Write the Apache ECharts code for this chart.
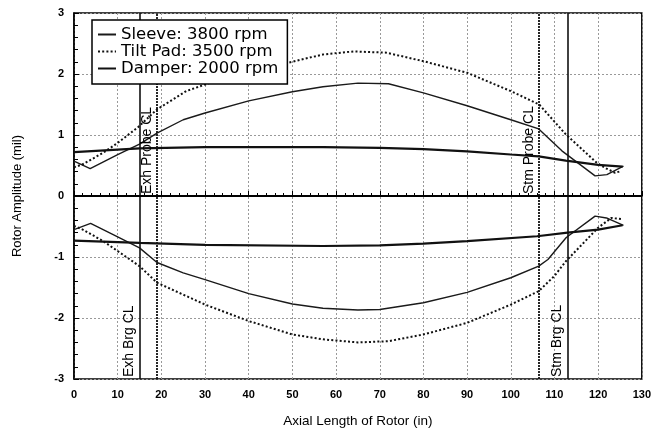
<!DOCTYPE html>
<html>
<head>
<meta charset="utf-8">
<script src="https://cdn.jsdelivr.net/npm/echarts/dist/echarts.min.js"></script>
<style>
  html, body { margin: 0; padding: 0; background: #fff; }
  #chart { width: 654px; height: 434px; }
</style>
</head>
<body>
<div id="chart"></div>
<script>
// legend names
const seriesNames = ['Sleeve: 3800 rpm', 'Tilt Pad: 3500 rpm', 'Damper: 2000 rpm']

// Sleeve bearing, upper / lower envelope
const sleeveUpX = [0, 3.7, 10, 15, 19, 25, 30, 40, 50, 57, 65, 72, 80, 90, 100, 106.4, 111.7, 119.3, 122, 125.8]
const sleeveUpY = [0.57, 0.45, 0.68, 0.85, 1.03, 1.25, 1.36, 1.56, 1.71, 1.79, 1.85, 1.84, 1.69, 1.48, 1.25, 1.1, 0.74, 0.33, 0.35, 0.49]
const sleeveLowX = [0, 3.8, 10, 15, 19, 25, 30, 40, 50, 57, 65, 70, 80, 90, 100, 106.4, 108.5, 112.7, 119.3, 121.9, 125.8]
const sleeveLowY = [-0.55, -0.45, -0.67, -0.85, -1.09, -1.26, -1.37, -1.6, -1.77, -1.84, -1.87, -1.86, -1.75, -1.58, -1.34, -1.15, -1.04, -0.68, -0.33, -0.36, -0.48]

// Tilt pad bearing
const tiltUpX = [0, 2, 6.7, 10, 14.7, 19, 25.7, 32.6, 40, 49.3, 57, 64, 71.5, 80, 90, 100, 106.5, 112.6, 119.6, 121.6, 123.9, 125.3]
const tiltUpY = [0.47, 0.52, 0.71, 0.87, 1.13, 1.42, 1.72, 1.89, 2.03, 2.19, 2.32, 2.37, 2.35, 2.21, 2.02, 1.72, 1.5, 1.01, 0.55, 0.46, 0.38, 0.41]
const tiltLowX = [0, 2, 6.7, 15, 19, 30, 40, 50, 57, 65, 72, 80, 90, 100, 106.4, 110, 112.6, 120, 123, 125.4]
const tiltLowY = [-0.49, -0.55, -0.74, -1.15, -1.42, -1.78, -2.05, -2.27, -2.35, -2.4, -2.38, -2.27, -2.08, -1.78, -1.56, -1.31, -1.07, -0.52, -0.36, -0.38]

// Squeeze film damper
const damperUpX = [0, 15, 30, 57, 70, 80, 90, 100, 106.4, 112.6, 120, 125.6]
const damperUpY = [0.72, 0.78, 0.8, 0.8, 0.79, 0.77, 0.73, 0.68, 0.65, 0.58, 0.51, 0.48]
const damperLowX = [0, 15, 30, 57, 70, 80, 90, 106, 113, 120, 125.6]
const damperLowY = [-0.73, -0.77, -0.8, -0.82, -0.81, -0.78, -0.74, -0.66, -0.6, -0.55, -0.48]

// bearing / probe centre lines
const markNames = ['Exh Brg CL', 'Exh Probe CL', 'Stm Probe CL', 'Stm Brg CL']
const markX = [15, 19, 106.5, 113]
const markLabelFrom = [-3, 0, 0, -3]
const markDotted = [false, true, true, false]

const FONT = '"Liberation Sans", Arial, sans-serif'

function pairs(xs, ys) {
  return xs.map((x, i) => [x, ys[i]])
}

const styles = [
  { color: '#1a1a1a', width: 1.4, type: 'solid' },
  { color: '#111', width: 2, type: [2, 2.2] },
  { color: '#111', width: 2.2, type: 'solid' }
]

function curve(name, data, style) {
  return {
    name: name,
    type: 'line',
    data: data,
    symbol: 'none',
    showSymbol: false,
    smooth: false,
    lineStyle: style,
    itemStyle: { color: style.color },
    emphasis: { disabled: true },
    z: 2
  }
}

const chart = echarts.init(document.getElementById('chart'), null, { renderer: 'canvas' })

// centre lines + their labels (label segment drawn invisible)
const markData = []
markX.forEach((x, i) => {
  markData.push({
    xAxis: x,
    label: { show: false },
    lineStyle: { color: '#111', width: markDotted[i] ? 1.8 : 1.6, type: markDotted[i] ? [2, 1] : 'solid' }
  })
  markData.push([
    { coord: [x, markLabelFrom[i]], name: markNames[i] },
    { coord: [x, 3] }
  ])
})
markData.push({ yAxis: 0, label: { show: false }, lineStyle: { color: '#000', width: 2, type: 'solid' } })

chart.setOption({
  animation: false,
  backgroundColor: '#fff',
  grid: { left: 74, right: 11, top: 13, bottom: 55, show: true, borderColor: '#000', borderWidth: 1.5 },
  legend: {
    data: seriesNames,
    orient: 'vertical',
    left: 92,
    top: 20,
    z: 10,
    padding: [6, 9, 7, 5],
    itemGap: 0,
    itemWidth: 18,
    itemHeight: 10,
    backgroundColor: '#fff',
    borderColor: '#000',
    borderWidth: 1.5,
    borderRadius: 0,
    selectedMode: false,
    // hide the circle that line series add to their legend icon
    itemStyle: { color: 'rgba(0,0,0,0)', borderColor: 'rgba(0,0,0,0)', borderWidth: 0, opacity: 0 },
    textStyle: { fontFamily: '"DejaVu Sans", sans-serif', fontSize: 16.5, lineHeight: 16, color: '#000' }
  },
  xAxis: {
    type: 'value',
    min: 0,
    max: 130,
    interval: 10,
    name: 'Axial Length of Rotor (in)',
    nameLocation: 'middle',
    nameGap: 35,
    nameTextStyle: { fontFamily: FONT, fontSize: 13.5, color: '#000' },
    axisLine: { lineStyle: { color: '#000', width: 1.5 } },
    axisTick: { inside: true, length: 5, lineStyle: { color: '#000' } },
    minorTick: { show: true, splitNumber: 5, length: 3, lineStyle: { color: '#000' } },
    axisLabel: { fontFamily: FONT, fontWeight: 'bold', fontSize: 11, color: '#000', margin: 10 },
    splitLine: { show: true, lineStyle: { color: '#999', type: [2, 2], width: 1 } }
  },
  yAxis: {
    type: 'value',
    min: -3,
    max: 3,
    interval: 1,
    name: 'Rotor Amplitude (mil)',
    nameLocation: 'middle',
    nameGap: 50,
    nameTextStyle: { fontFamily: FONT, fontSize: 13, color: '#000' },
    axisLine: { show: true, lineStyle: { color: '#000', width: 1.5 } },
    axisTick: { inside: true, length: 5, lineStyle: { color: '#000' } },
    minorTick: { show: true, splitNumber: 5, length: 4, lineStyle: { color: '#000' } },
    axisLabel: { fontFamily: FONT, fontWeight: 'bold', fontSize: 11, color: '#000', margin: 10 },
    splitLine: { show: true, lineStyle: { color: '#999', type: [2, 2], width: 1 } }
  },
  series: [
    curve(seriesNames[0], pairs(sleeveUpX, sleeveUpY), styles[0]),
    curve(seriesNames[0], pairs(sleeveLowX, sleeveLowY), styles[0]),
    curve(seriesNames[1], pairs(tiltUpX, tiltUpY), styles[1]),
    curve(seriesNames[1], pairs(tiltLowX, tiltLowY), styles[1]),
    curve(seriesNames[2], pairs(damperUpX, damperUpY), styles[2]),
    curve(seriesNames[2], pairs(damperLowX, damperLowY), styles[2]),
    {
      // holder for the reference lines
      name: 'marks',
      type: 'line',
      data: [],
      silent: true,
      z: 3,
      markLine: {
        silent: true,
        symbol: ['none', 'none'],
        animation: false,
        lineStyle: { color: '#111', width: 0.01, opacity: 1 },
        label: {
          show: true,
          position: 'insideStartTop',
          distance: [2, 3],
          formatter: '{b}',
          fontFamily: FONT,
          fontSize: 14,
          color: '#000'
        },
        emphasis: { disabled: true },
        data: markData
      }
    }
  ]
})
</script>
</body>
</html>
